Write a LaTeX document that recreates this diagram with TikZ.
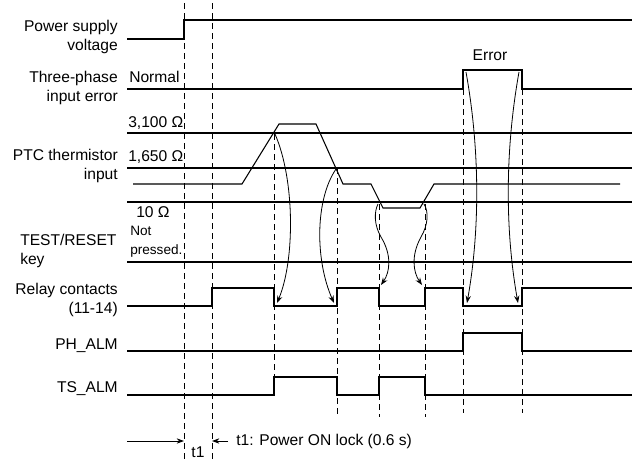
\documentclass[tikz,border=0pt]{standalone}
\usepackage{fontspec}
\setmainfont{Liberation Sans}
\usetikzlibrary{arrows.meta}
\begin{document}
\begin{tikzpicture}[x=0.75pt,y=-0.75pt,
  sig/.style={line width=1.1pt, line join=miter},
  thr/.style={line width=1pt},
  ptcline/.style={line width=0.8pt},
  guide/.style={line width=0.6pt, dash pattern=on 4.5pt off 3pt},
  cause/.style={line width=0.6pt, -{Stealth[length=5.5pt,width=4pt]}},
  lab/.style={font=\fontsize{11.7}{14.5}\selectfont, inner sep=0pt, align=right, anchor=east},
  val/.style={font=\fontsize{11.7}{14.5}\selectfont, inner sep=0pt, anchor=west},
  small/.style={font=\fontsize{10.2}{14.5}\selectfont, inner sep=0pt, anchor=west, align=left},
]
\useasboundingbox (0,0) rectangle (632,461);

% guide lines
\draw[guide] (184,3) -- (184,461);
\draw[guide] (212,3) -- (212,461);
\draw[guide] (274,134) -- (274,377);
\draw[guide] (337,168) -- (337,417);
\draw[guide] (379,204) -- (379,417);
\draw[guide] (425,204) -- (425,417);
\draw[guide] (463,89) -- (463,413);
\draw[guide] (522,89) -- (522,413);

% row labels
\node[lab] (psv) at (118,37) {Power supply\\voltage};
\node[lab] (tpe) at (118,88) {Three-phase\\input error};
\node[lab] (ptc) at (118,166) {PTC thermistor\\input};
\node[lab, align=left, anchor=west] (trk) at (20,251) {TEST/RESET\\key};
\node[lab] (rel) at (118,300) {Relay contacts\\(11-14)};
\node[lab] (ph) at (118,346) {PH\_ALM};
\node[lab] (ts) at (118,389) {TS\_ALM};

% value labels
\node[val] (normal) at (129,77) {Normal};
\node[val] (r3100) at (128,123) {3,100 Ω};
\node[val] (r1650) at (128,157) {1,650 Ω};
\node[val] (r10) at (136,212) {10 Ω};
\node[small] (notp) at (130,242) {Not\\pressed.};
\node[val, anchor=center] (err) at (490,55) {Error};

% signals
\draw[sig] (127,39) -- (184,39) -- (184,20) -- (632,20);
\draw[sig] (127,89) -- (463,89) -- (463,70) -- (522,70) -- (522,89) -- (632,89);
\draw[thr] (127,133) -- (632,133);
\draw[thr] (127,168) -- (632,168);
\draw[thr] (127,202) -- (632,202);
\draw[ptcline] (133,184) -- (242,184) -- (279,124) -- (316,124) -- (343,184) -- (371,184)
  -- (383,208) -- (420,208) -- (434,184) -- (620,184);
\draw[thr] (127,262) -- (632,262);
\draw[sig] (127,306) -- (212,306) -- (212,288) -- (274,288) -- (274,306) -- (337,306) -- (337,288)
  -- (379,288) -- (379,306) -- (425,306) -- (425,288) -- (463,288) -- (463,306) -- (522,306)
  -- (522,288) -- (632,288);
\draw[sig] (127,351) -- (463,351) -- (463,333) -- (522,333) -- (522,351) -- (632,351);
\draw[sig] (127,395) -- (274,395) -- (274,377) -- (337,377) -- (337,395) -- (379,395) -- (379,377)
  -- (425,377) -- (425,395) -- (632,395);

% cause points and effect points
\coordinate (x1) at (275,134);
\coordinate (x2) at (336,169);
\coordinate (x3) at (378,204);
\coordinate (x4) at (424,204);
\coordinate (x5) at (466,72);
\coordinate (x6) at (519,72);
\coordinate (e1) at (277,303);
\coordinate (e2) at (334,303);
\coordinate (e3) at (381,285);
\coordinate (e4) at (422,285);
\coordinate (e5) at (467,303);
\coordinate (e6) at (518,303);

\draw[cause] (x1) .. controls (295,180) and (295,260) .. (e1);
\draw[cause] (x2) .. controls (315,200) and (315,260) .. (e2);
\draw[cause] (x3) .. controls (374,212) and (374,225) .. (381,237)
  .. controls (392,255) and (390,272) .. (e3);
\draw[cause] (x4) .. controls (429,212) and (428,225) .. (421,237)
  .. controls (411,255) and (413,272) .. (e4);
\draw[cause] (x5) .. controls (480,150) and (480,230) .. (e5);
\draw[cause] (x6) .. controls (505,150) and (505,230) .. (e6);

% t1 dimension
\coordinate (ta) at (127,441);
\coordinate (tb) at (184,441);
\coordinate (tc) at (228,441);
\coordinate (td) at (212,441);
\draw[line width=0.6pt, -{Stealth[length=5.5pt,width=4pt]}] (ta) -- (tb);
\draw[line width=0.6pt, -{Stealth[length=5.5pt,width=4pt]}] (tc) -- (td);
\node[val] (t1note) at (236,441) {t1: Power ON lock (0.6 s)};
\node[val, anchor=center] (t1) at (198,452) {t1};
\end{tikzpicture}
\end{document}
